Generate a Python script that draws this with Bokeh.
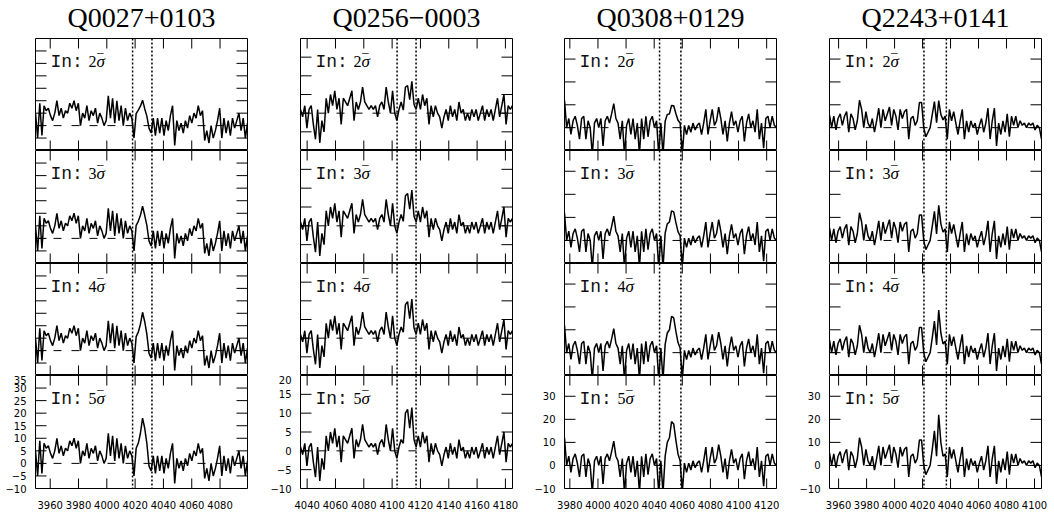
import numpy as np
from bokeh.plotting import figure
from bokeh.layouts import row, column
from bokeh.models import Span, Label, SingleIntervalTicker
from bokeh.core.properties import value
from bokeh.embed import file_html
from bokeh.resources import INLINE

# ---------------- data ----------------
titles = ["Q0027+0103", "Q0256\u22120003", "Q0308+0129", "Q2243+0141"]
sigma_levels = [2, 3, 4, 5]

# base spectra (no injected line), ~1.5 A sampling
flux_q0027 = [5, -5, 9, -4, 8, 6, 7, 4, 2, 5,
              10, 4, 7, 3, 6, 5, 9, 7, 10, 6,
              9, 0, 5, 3, 8, 2, 6, 4, 7, 1,
              5, 3, 0, 2, 12, 3, 11, 1, 10, 2,
              8, 0, 7, 2, 5, 3, -5, 4, 5, 5,
              5, 2, 1, -1, -3, 3, -4, 3, -3, 3,
              -4, 2, -2, 4, 8, -8, 2, -2, 1, -3,
              2, -1, 4, 1, 5, 3, 8, 4, 6, -6,
              -2, -7, 0, -5, -2, 2, 7, -5, 3, -3,
              2, -4, 3, -1, 2, 5, -2, 3, -5, 1]
flux_q0256 = [1, -1, 2, -4, 1, 2, -3, -7, 1, -8,
              -2, -5, 4, 0, 5, 2, 6, 1, 4, -3,
              4, 3, 2, 4, 6, -2, 3, 1, 3, 7,
              3, 2, 1, 2, 1, 2, -1, 2, 3, 1,
              7, 3, 0, 6, 0, -2, 1, 3, 0, 5,
              5, 2, 6.5, 2, 1, 4, 1, 5, 2, 4,
              -3, 2, -1, 2, 0, -1, -4, -1, 1, -2,
              2, -1, 1, -2, 3, 0, 1, -2, 0, -2,
              1, -1, 1, -2, 0, 2, -2, 1, -1, 1,
              -2, 1, 4, -1, 2, 5, -3, 2, 1, 2]
flux_q0308 = [12, 0, 4, -3, 3, 5, 1, -5, 4, 5,
              -5, 3, 0, -12, 2, 4, 0, 4, -8, 3,
              5, 2, 6, 10.5, 4, 2, -5, 3, -12, 1,
              4, -3, 4, -5, 2, -12, 4, -5, 5, -4,
              3, 5, 0, 3, -12, 2, -12, 2, 3, 2,
              3.5, 4, 3, 2, 2, -12, 1, -3, 1, -2,
              2, -1, 1, 2, -3, 2, 8, -3, 3, 8,
              1, 3, 9, 4, -3, 3, -6, 2, 7, 1,
              3, -2, 3, 5, -6, 2, 6, 0, 3, -2,
              8, -5, 2, -9, 4, 5, 0, 5, 1, 0]
flux_q2243 = [5.5, 0, 5, -1, 4, 6, 1, 5, 7, -2,
              6, 4, -1, 3, 12, 8, 0, 7, 2, 0,
              4, -2, 3, 8.5, 0, 8, 3, 6, 9, 1,
              8, 5, -1, 8, 4, 7, 8, -5, 4, 5,
              1, 3, 11, 11, 0, -4, -2, 0, 5, 9,
              1, 5, 3, 3, 5, -5, 8, 3, 7, 2,
              -3, 3, 8, -5, 3, -2, 3, 0, 2, -3,
              1, 4, -2, 2, 8.5, -5, 3, 8.5, -8, 2,
              -3, 3, -2, 6, -4, 5, 1, 5, 0, 3,
              1, 2, 0, 2, 1, 2, -1, 1, 0, -5]

# injected emission line profile at 5 sigma (added to consecutive pixels)
inj_q0027 = [2, 3, 7, 13, 12, 7]
inj_q0256 = [2, 5, 6, 4, 5, 1]
inj_q0308 = [2, 7, 10, 15.5, 14, 8, 3]
inj_q2243 = [2, 6, 3, 17, 7, 1]
inj_first_pixel = [47, 48, 47, 48]

# wavelength coverage of each spectrum (Angstrom)
wave_range = [(3949.6, 4099.4), (4035.3, 4185.0), (3976.2, 4127.0), (3953.5, 4105.0)]
# line window (dotted lines)
window = [(4018.2, 4031.9), (4103.5, 4116.9), (4043.8, 4059.0), (4021.0, 4037.0)]
flux_limits = [(-10, 35), (-10, 20), (-10, 39), (-10, 39)]
y_tick_step = [5, 5, 10, 10]
x_tick_step = 20

fluxes = [flux_q0027, flux_q0256, flux_q0308, flux_q2243]
injections = [inj_q0027, inj_q0256, inj_q0308, inj_q2243]

# ---------------- layout constants ----------------
FRAME_W = 212
FRAME_HS = [112, 113, 112, 113]
BORDER_L = 35
BORDER_R = [18, 17, 18, 13]
TOP = 38
BOTTOM = 29
MINUS = "\u2212"


def style_label_axis(ax, step, standoff):
    ax.ticker = SingleIntervalTicker(interval=step, num_minor_ticks=0)
    ax.major_tick_in = 0
    ax.major_tick_out = 0
    ax.minor_tick_in = 0
    ax.minor_tick_out = 0
    ax.axis_line_color = None
    ax.major_label_text_font = "DejaVu Sans"
    ax.major_label_text_font_size = "10px"
    ax.major_label_text_color = "black"
    ax.major_label_standoff = standoff
    ax.major_label_overrides = {-10: MINUS + "10", -5: MINUS + "5"}


def tick_values(lo, hi, step):
    start = np.ceil(lo / step) * step
    return np.arange(start, hi + 1e-9, step)


cols = []
for c in range(4):
    xlo, xhi = wave_range[c]
    ylo, yhi = flux_limits[c]
    base = np.array(fluxes[c], dtype=float)
    wave = np.linspace(xlo, xhi, len(base))
    prof = np.zeros_like(base)
    i0 = inj_first_pixel[c]
    prof[i0:i0 + len(injections[c])] = injections[c]
    xt = tick_values(xlo, xhi, x_tick_step)
    yt = tick_values(ylo, yhi, y_tick_step[c])

    # title strip above the column
    t = figure(frame_width=FRAME_W, frame_height=TOP, x_range=(xlo, xhi),
               y_range=(0, TOP), output_backend="svg", toolbar_location=None,
               min_border_left=BORDER_L, min_border_right=BORDER_R[c],
               min_border_top=0, min_border_bottom=0,
               background_fill_color="white", border_fill_color="white")
    t.xaxis.visible = False
    t.yaxis.visible = False
    t.xgrid.visible = False
    t.ygrid.visible = False
    t.outline_line_color = None
    t.text(x=[(xlo + xhi) / 2], y=[21.5], text=[titles[c]],
           text_align="center", text_baseline="middle",
           text_font=value("Liberation Serif"), text_font_size="28px",
           text_color="black")
    figs = [t]

    for r, lev in enumerate(sigma_levels):
        fh = FRAME_HS[r]
        p = figure(frame_width=FRAME_W, frame_height=fh,
                   x_range=(xlo, xhi), y_range=(ylo, yhi),
                   output_backend="svg", toolbar_location=None,
                   min_border_left=BORDER_L, min_border_right=BORDER_R[c],
                   min_border_top=0,
                   min_border_bottom=BOTTOM if r == 3 else 0,
                   background_fill_color="white", border_fill_color="white")
        p.xgrid.visible = False
        p.ygrid.visible = False
        p.outline_line_color = "black"
        p.outline_line_width = 1
        p.outline_line_alpha = 1

        if r == 3:
            style_label_axis(p.xaxis[0], x_tick_step, 12)
            style_label_axis(p.yaxis[0], y_tick_step[c], 9)
        else:
            p.xaxis.visible = False
            p.yaxis.visible = False

        pxu_x = FRAME_W / (xhi - xlo)
        pxu_y = fh / (yhi - ylo)

        # inward tick marks on all four sides
        tk = dict(line_color="black", line_width=1, length_units="screen")
        p.ray(x=xt, y=[ylo] * len(xt), length=10, angle=np.pi / 2, **tk)
        p.ray(x=xt, y=[yhi] * len(xt), length=10, angle=-np.pi / 2, **tk)
        p.ray(x=[xlo] * len(yt), y=yt, length=11, angle=0, **tk)
        p.ray(x=[xhi] * len(yt), y=yt, length=11, angle=np.pi, **tk)

        p.add_layout(Span(location=0, dimension="width", line_color="black",
                          line_width=1, line_dash="8 10", level="underlay"))
        for w in window[c]:
            p.add_layout(Span(location=w, dimension="height", line_color="black",
                              line_width=1.5, line_dash="2 2"))

        flux = base + prof * lev / 5.0
        p.line(wave, flux, line_color="black", line_width=1.5)

        lx = xlo + 15.0 / pxu_x
        ly = yhi - 23.0 / pxu_y
        p.add_layout(Label(x=lx, y=ly, text="In:", text_font="Liberation Mono",
                           text_font_size="18px", text_baseline="alphabetic",
                           text_color="#111111"))
        p.add_layout(Label(x=lx, y=ly, x_offset=38, text=str(lev),
                           text_font="Liberation Serif", text_font_size="16px",
                           text_baseline="alphabetic", text_color="black"))
        p.add_layout(Label(x=lx, y=ly, x_offset=46, text="\u03c3",
                           text_font="Liberation Serif", text_font_size="17px",
                           text_font_style="italic",
                           text_baseline="alphabetic", text_color="black"))
        p.add_layout(Label(x=lx, y=ly, x_offset=47, y_offset=0, text="\u203e",
                           text_font="Liberation Serif", text_font_size="17px",
                           text_baseline="alphabetic", text_color="black"))
        figs.append(p)
    cols.append(column(*figs, spacing=0))

layout = row(*cols, spacing=0)
open("out.html", "w").write(file_html(layout, INLINE))
